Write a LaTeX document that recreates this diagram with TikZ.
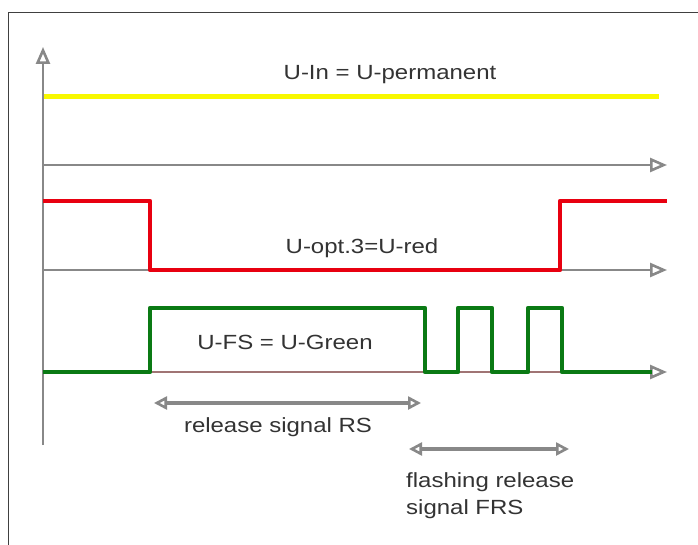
\documentclass[tikz,border=0pt]{standalone}
\usepackage{fontspec}
\setmainfont{Liberation Sans}[FakeStretch=1.17]
\usetikzlibrary{arrows.meta}
\definecolor{axisgray}{HTML}{888888}
\definecolor{sigyellow}{HTML}{F8F800}
\definecolor{sigred}{HTML}{E80010}
\definecolor{siggreen}{HTML}{0A7A14}
\definecolor{baseline}{HTML}{A07474}
\definecolor{txt}{HTML}{333333}
\tikzset{
  axis/.style={draw=axisgray, line width=2.8pt, -{Triangle[open, length=17pt, width=14pt, line width=2.6pt]}},
  sigline/.style={line width=4.5pt, line join=round},
  span/.style={draw=axisgray, line width=4pt,
    {Triangle[open, length=13pt, width=13pt, line width=2.6pt]}-{Triangle[open, length=13pt, width=13pt, line width=2.6pt]}},
  lbl/.style={font=\fontsize{20.5}{27}\selectfont, text=txt, inner sep=0pt}
}
\begin{document}
\begin{tikzpicture}[x=1pt, y=-1pt]
\useasboundingbox (0,0) rectangle (698,545);
\fill[white] (0,0) rectangle (698,545);
% frame
\draw[line width=1.3pt, black!75] (8.5,545) -- (8.5,12.5) -- (698,12.5);

% vertical axis
\draw[axis] (43,445) -- (43,47);

% U-In trace
\draw[sigyellow, line width=5pt] (44,97) -- (659,97);
\node[lbl] (uin) at (390,75) {U-In = U-permanent};

% time axes
\draw[axis] (43,165) -- (667,165);
\draw[axis] (43,270) -- (667,270);
\draw[draw=baseline, line width=2pt] (43,372) -- (652,372);
\draw[axis] (650,372) -- (667,372);

% U-opt.3 trace
\draw[sigline, sigred] (43,201) -- (150,201) -- (150,270) -- (560,270) -- (560,201) -- (667,201);
\node[lbl] (uopt) at (362,248) {U-opt.3=U-red};

% U-FS trace
\draw[sigline, siggreen] (43,372) -- (150,372) -- (150,308) -- (425,308) -- (425,372)
  -- (458,372) -- (458,308) -- (492,308) -- (492,372)
  -- (528,372) -- (528,308) -- (562,308) -- (562,372) -- (652,372);
\node[lbl] (ufs) at (285,342) {U-FS = U-Green};

% signal spans
\coordinate (rsA) at (154,403);
\coordinate (rsB) at (421,403);
\draw[span] (rsA) -- (rsB);
\node[lbl] (rs) at (278,427) {release signal RS};

\coordinate (frsA) at (409,449);
\coordinate (frsB) at (569,449);
\draw[span] (frsA) -- (frsB);
\node[lbl, anchor=west, align=left] (frs) at (406,495.5) {flashing release\\signal FRS};
\end{tikzpicture}
\end{document}
